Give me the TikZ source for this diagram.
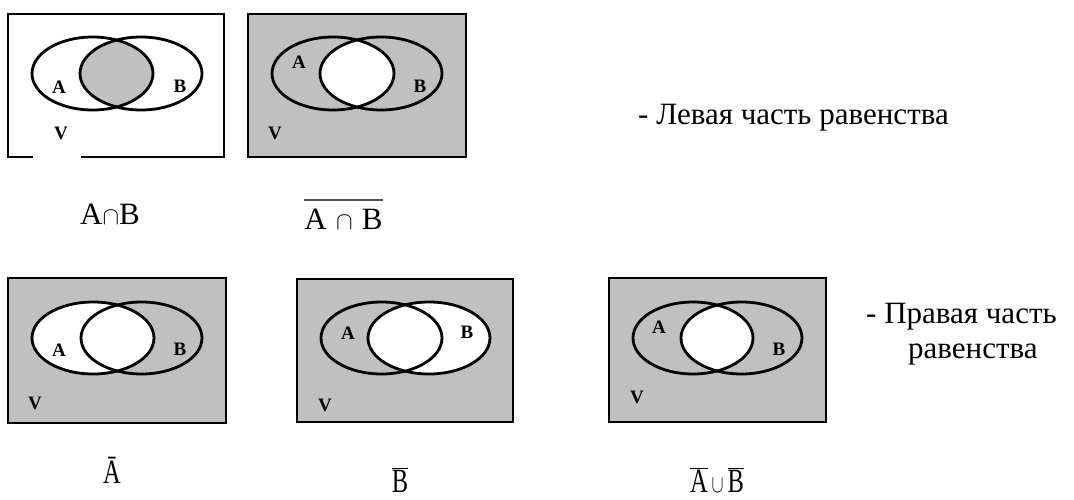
\documentclass[tikz,border=0pt]{standalone}
\usepackage{fontspec}
\setmainfont{Liberation Serif}
\usepackage{graphicx}
\definecolor{panelgray}{RGB}{192,192,192}
\definecolor{bargray}{RGB}{80,80,80}
\begin{document}
\begin{tikzpicture}[x=1pt,y=-1pt,
  frame/.style={draw=black, line width=2pt},
  venn/.style={draw=black, line width=2.8pt},
  lbl/.style={font=\fontsize{19}{19}\selectfont\bfseries, inner sep=0pt},
  caption/.style={font=\fontsize{31}{36}\selectfont, inner sep=0pt, anchor=base},
  narrow/.style={font=\fontsize{34}{38}\selectfont, inner sep=0pt, anchor=base},
  remark/.style={font=\fontsize{31}{36}\selectfont, inner sep=0pt, anchor=base west},
]
\useasboundingbox (0,0) rectangle (1074,500);

% ---------- Panel 1: A cap B ----------
\fill[white] (8,14) rectangle (224,157);
\begin{scope}
  \clip (92.5,73.5) ellipse [x radius=60.5, y radius=36.5];
  \fill[panelgray] (141,73.5) ellipse [x radius=61, y radius=36.5];
\end{scope}
\draw[frame] (8,14) rectangle (224,157);
\draw[white, line width=3pt] (33,157) -- (81,157);
\draw[venn] (92.5,73.5) ellipse [x radius=60.5, y radius=36.5];
\draw[venn] (141,73.5) ellipse [x radius=61, y radius=36.5];
\node[lbl] (p1A) at (59,87) {A};
\node[lbl] (p1B) at (180,86) {B};
\node[lbl] (p1V) at (61,133) {V};

% ---------- Panel 2: complement of A cap B ----------
\fill[panelgray] (248,14) rectangle (466,157);
\begin{scope}
  \clip (333,73.5) ellipse [x radius=61, y radius=36.5];
  \fill[white] (381,73.5) ellipse [x radius=61, y radius=36.5];
\end{scope}
\draw[frame] (248,14) rectangle (466,157);
\draw[venn] (333,73.5) ellipse [x radius=61, y radius=36.5];
\draw[venn] (381,73.5) ellipse [x radius=61, y radius=36.5];
\node[lbl] (p2A) at (299,62) {A};
\node[lbl] (p2B) at (420,86) {B};
\node[lbl] (p2V) at (275,133) {V};

% ---------- Panel 3: not A ----------
\fill[panelgray] (8,278) rectangle (226,423);
\fill[white] (93,338) ellipse [x radius=61, y radius=36];
\draw[frame] (8,278) rectangle (226,423);
\draw[venn] (93,338) ellipse [x radius=61, y radius=36];
\draw[venn] (141.5,338) ellipse [x radius=60.5, y radius=36];
\node[lbl] (p3A) at (59,350) {A};
\node[lbl] (p3B) at (180,349) {B};
\node[lbl] (p3V) at (35,403) {V};

% ---------- Panel 4: not B ----------
\fill[panelgray] (297,279) rectangle (513,422);
\fill[white] (429,338) ellipse [x radius=61, y radius=36];
\draw[frame] (297,279) rectangle (513,422);
\draw[venn] (381.5,338) ellipse [x radius=60.5, y radius=36];
\draw[venn] (429,338) ellipse [x radius=61, y radius=36];
\node[lbl] (p4A) at (348,333) {A};
\node[lbl] (p4B) at (467,332) {B};
\node[lbl] (p4V) at (325,405) {V};

% ---------- Panel 5: not A cup not B ----------
\fill[panelgray] (609,278) rectangle (826,422);
\begin{scope}
  \clip (693,338) ellipse [x radius=60, y radius=36];
  \fill[white] (741.5,338) ellipse [x radius=60.5, y radius=36];
\end{scope}
\draw[frame] (609,278) rectangle (826,422);
\draw[venn] (693,338) ellipse [x radius=60, y radius=36];
\draw[venn] (741.5,338) ellipse [x radius=60.5, y radius=36];
\node[lbl] (p5A) at (659,327) {A};
\node[lbl] (p5B) at (779,349) {B};
\node[lbl] (p5V) at (637,397) {V};

% ---------- Captions ----------
\node[caption] (c1) at (110,224) {A$\cap$B};
\node[caption] (c2) at (343.5,229) {A\hspace{0.3em}$\cap$\hspace{0.3em}B};
\draw[bargray, line width=2.2pt] ([yshift=8pt]c2.north west) -- ([yshift=8pt]c2.north east);

\node[narrow] (c3) at (112,483) {\scalebox{0.72}[1]{Ā}};
\node[narrow] (c4) at (400,492) {\scalebox{0.72}[1]{$\overline{\hbox{B}}$}};
\node[narrow] (c5) at (717,492) {\scalebox{0.72}[1]{$\overline{\hbox{A}}\cup\overline{\hbox{B}}$}};

% ---------- Remarks ----------
\node[remark] (r1) at (638,125) {- Левая часть равенства};
\node[remark] (r2) at (866,323) {- Правая часть};
\node[remark] (r3) at (908,358) {равенства};
\end{tikzpicture}
\end{document}
